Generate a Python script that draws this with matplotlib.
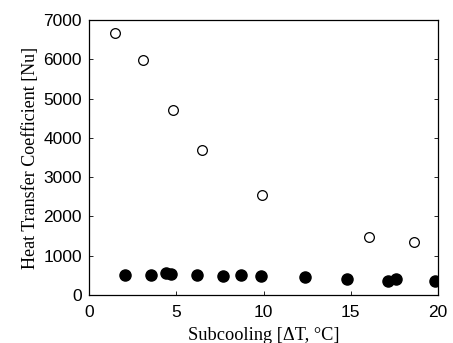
import matplotlib
matplotlib.use("Agg")
import matplotlib.pyplot as plt

# open circles
open_x = [1.5, 3.1, 4.8, 6.5, 9.9, 16.05, 18.6]
open_y = [6680, 5970, 4710, 3700, 2550, 1470, 1340]

# filled circles
filled_x = [2.05, 3.55, 4.42, 4.68, 6.17, 7.66, 8.69, 9.86, 12.38, 14.8, 17.15, 17.6, 19.83]
filled_y = [515, 500, 560, 545, 505, 490, 505, 490, 450, 405, 365, 395, 365]

xticks = [0, 5, 10, 15, 20]
yticks = [0, 1000, 2000, 3000, 4000, 5000, 6000, 7000]

fig = plt.figure(figsize=(4.53, 3.43), dpi=100)
ax = fig.add_axes([0.1965, 0.14, 0.7705, 0.8017])

ax.plot(open_x, open_y, 'o', mfc='white', mec='black', mew=0.9, ms=7.0, linestyle='none')
ax.plot(filled_x, filled_y, 'o', color='black', ms=8, linestyle='none')

ax.set_xlim(0, 20)
ax.set_ylim(0, 7000)
ax.set_xticks(xticks)
ax.set_yticks(yticks)

ax.tick_params(direction='in', length=3, width=0.6, right=True, labelsize=12.5)
ax.tick_params(axis='x', pad=7)
ax.tick_params(axis='y', pad=5)
for lab in ax.get_xticklabels() + ax.get_yticklabels():
    lab.set_family('Liberation Sans')
for s in ax.spines.values():
    s.set_linewidth(0.9)

ax.set_xlabel('Subcooling [ΔT, °C]', family='Liberation Serif', fontsize=13.2, labelpad=5)
ax.set_ylabel('Heat Transfer Coefficient [Nu]', family='Liberation Serif', fontsize=13.0, labelpad=3)

fig.savefig('out.png', dpi=100)
